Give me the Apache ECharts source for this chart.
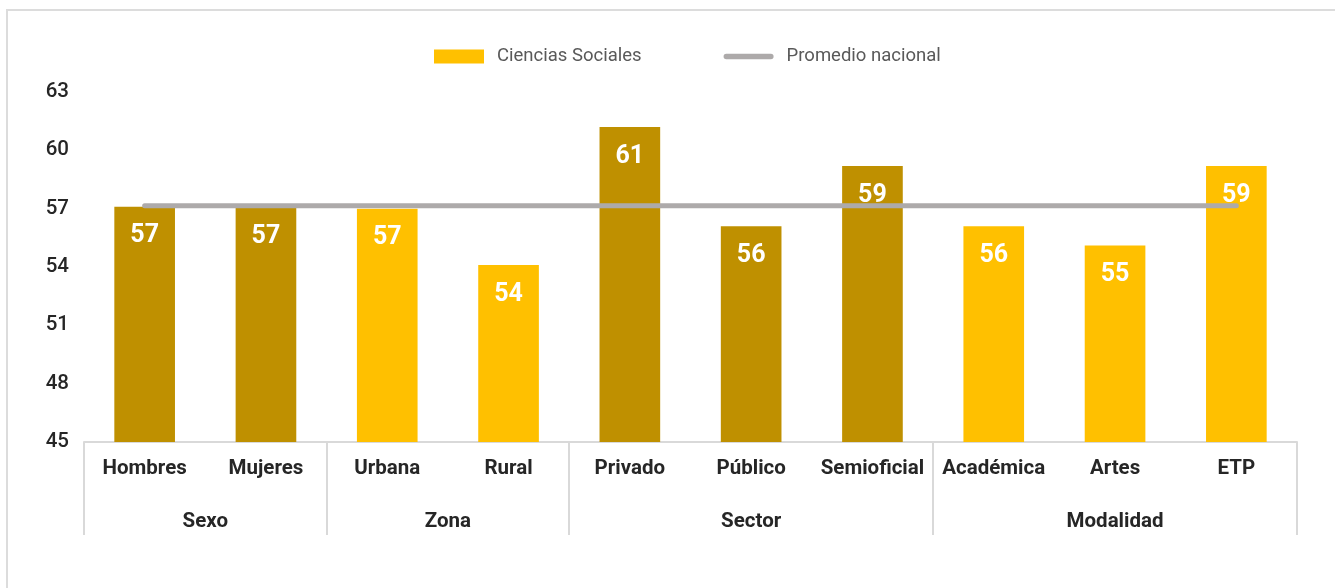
<!DOCTYPE html>
<html>
<head>
<meta charset="utf-8">
<script src="https://cdn.jsdelivr.net/npm/echarts@6/dist/echarts.min.js"></script>
<style>
    html, body{
        margin: 0;
        padding: 0;
        background: #ffffff;
        overflow: hidden;
    }
    .frame{
        position: absolute;
        left: 6px;
        top: 9px;
        width: 1400px;
        height: 700px;
        border: solid 2px #dcdcdc;
    }
    #main{
        position: absolute;
        left: 0;
        top: 0;
        width: 1335px;
        height: 588px;
    }
</style>
</head>
<body>
<div class="frame"></div>
<div id="main"></div>
<script>
    // datos
    var categories = ['Hombres', 'Mujeres', 'Urbana', 'Rural', 'Privado', 'Público', 'Semioficial', 'Académica', 'Artes', 'ETP'];
    var groupOf = [0, 0, 1, 1, 2, 2, 2, 3, 3, 3];
    var groups = ['Sexo', 'Zona', 'Sector', 'Modalidad'];
    var groupCenters = [1, 3, 5.5, 8.5];
    var groupEdges = [0, 2, 4, 7, 10];
    var sociales = [57.1, 57.05, 57.0, 54.1, 61.2, 56.1, 59.2, 56.1, 55.1, 59.2];
    var promedio = [57.15, 57.15, 57.15, 57.15, 57.15, 57.15, 57.15, 57.15, 57.15, 57.15];
    var yTicks = {min: 45, max: 63, interval: 3};

    var groupColors = ['#BF9000', '#FFC000', '#BF9000', '#FFC000'];
    var txt = '#262626';
    var lineIcon = 'path://M3,0 L53,0 A3,3 0 0 1 53,6 L3,6 A3,3 0 0 1 3,0 Z';

    var myChart = echarts.init(document.getElementById('main'));
    myChart.setOption({
        animation: false,
        textStyle: {fontFamily: 'Roboto'},
        legend: {
            top: 42,
            left: 429,
            itemGap: 82,
            itemWidth: 50,
            itemHeight: 14,
            textStyle: {color: '#595959', fontSize: 18.5, fontFamily: 'Roboto', padding: [0, 0, 0, 8]},
            data: [
                {name: 'Ciencias Sociales', icon: 'rect', itemStyle: {color: '#FFC000'}},
                {name: 'Promedio nacional', icon: lineIcon, symbolKeepAspect: true,
                    itemStyle: {color: '#ADAAAA'}}
            ]
        },
        grid: {left: 84, right: 38, top: 92, bottom: 146},
        xAxis: [
            {
                type: 'category',
                data: categories,
                axisLine: {lineStyle: {color: '#d9d9d9', width: 2}},
                axisTick: {show: false},
                axisLabel: {
                    interval: 0, margin: 16, color: txt,
                    fontSize: 20.5, fontWeight: 'bold', fontFamily: 'Roboto'
                }
            },
            {
                type: 'value',
                position: 'bottom',
                min: 0,
                max: 10,
                splitLine: {show: false},
                axisLine: {show: false},
                axisTick: {
                    show: true, length: 93, customValues: groupEdges,
                    lineStyle: {color: '#d9d9d9', width: 2}
                },
                axisLabel: {
                    customValues: groupCenters,
                    margin: 69, color: txt, fontSize: 20.5, fontWeight: 'bold', fontFamily: 'Roboto',
                    formatter: function (v) {
                        return groups[groupCenters.indexOf(v)];
                    }
                }
            }
        ],
        yAxis: {
            type: 'value',
            min: yTicks.min,
            max: yTicks.max,
            interval: yTicks.interval,
            splitLine: {show: false},
            axisLine: {show: false},
            axisTick: {show: false},
            axisLabel: {margin: 15, color: txt, fontSize: 20.5, fontWeight: 500, fontFamily: 'Roboto'}
        },
        series: [
            {
                name: 'Ciencias Sociales',
                type: 'bar',
                barWidth: '50%',
                itemStyle: {color: '#FFC000'},
                data: sociales.map(function (v, i) {
                    return {value: v, itemStyle: {color: groupColors[groupOf[i]]}};
                }),
                label: {
                    show: true,
                    position: 'insideTop',
                    distance: 17,
                    color: '#ffffff',
                    fontSize: 25,
                    fontWeight: 'bold',
                    fontFamily: 'Roboto',
                    formatter: function (p) {
                        return Math.round(p.value);
                    }
                },
                z: 2
            },
            {
                name: 'Promedio nacional',
                type: 'line',
                data: promedio,
                symbol: 'none',
                lineStyle: {color: '#ADAAAA', width: 5, cap: 'round'},
                itemStyle: {color: '#ADAAAA'},
                z: 3
            }
        ]
    });
</script>
</body>
</html>
